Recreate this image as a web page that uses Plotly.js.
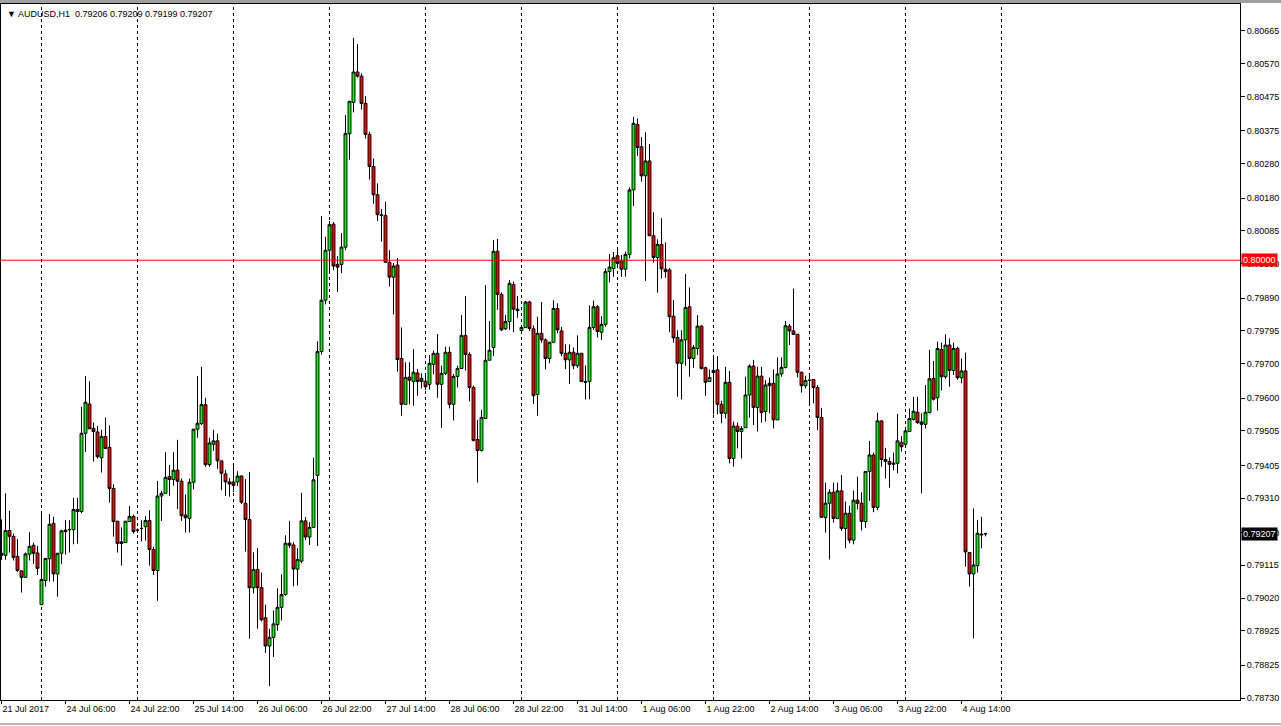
<!DOCTYPE html>
<html>
<head>
<meta charset="utf-8">
<script src="https://cdn.plot.ly/plotly-3.0.1.min.js"></script>
<style>html,body{margin:0;padding:0;background:#fff;}#chart{width:1281px;height:726px;}</style>
</head>
<body>
<div id="chart"></div>
<script>
// Trading sessions (date, first hour, last hour) of the H1 bars
const sessions = [
  ['2017-07-21',14,23],['2017-07-24',0,23],['2017-07-25',0,23],['2017-07-26',0,23],
  ['2017-07-27',0,23],['2017-07-28',0,23],['2017-07-31',0,23],['2017-08-01',0,23],
  ['2017-08-02',0,23],['2017-08-03',0,23],['2017-08-04',0,20]
];
const open = [
0.79150,0.79144,0.79216,0.79199,0.79141,0.79099,0.79080,0.79147,0.79173,0.79151,
0.79001,0.79071,0.79134,0.79237,0.79090,0.79150,0.79213,0.79218,0.79218,0.79277,
0.79271,0.79498,0.79583,0.79512,0.79502,0.79427,0.79489,0.79457,0.79338,0.79243,
0.79178,0.79181,0.79242,0.79257,0.79217,0.79222,0.79227,0.79245,0.79161,0.79100,
0.79316,0.79324,0.79373,0.79364,0.79391,0.79359,0.79261,0.79251,0.79356,0.79510,
0.79526,0.79581,0.79407,0.79466,0.79476,0.79418,0.79380,0.79357,0.79357,0.79357,
0.79374,0.79295,0.79248,0.79050,0.79103,0.79050,0.78963,0.78881,0.78906,0.78943,
0.78993,0.79030,0.79179,0.79174,0.79104,0.79127,0.79244,0.79197,0.79225,0.79376,
0.79735,0.79884,0.80029,0.80105,0.79988,0.79988,0.80038,0.80367,0.80458,0.80546,
0.80534,0.80455,0.80365,0.80272,0.80190,0.80132,0.80130,0.79994,0.79951,0.79986,
0.79715,0.79582,0.79661,0.79648,0.79673,0.79657,0.79649,0.79640,0.79698,0.79730,
0.79640,0.79672,0.79733,0.79582,0.79663,0.79686,0.79782,0.79727,0.79631,0.79480,
0.79448,0.79541,0.79710,0.79747,0.80026,0.79901,0.79801,0.79822,0.79930,0.79858,
0.79796,0.79805,0.79879,0.79801,0.79611,0.79788,0.79769,0.79715,0.79762,0.79860,
0.79795,0.79730,0.79711,0.79733,0.79694,0.79730,0.79648,0.79648,0.79805,0.79865,
0.79791,0.79814,0.79967,0.79976,0.80013,0.79998,0.79974,0.80017,0.80204,0.80394,
0.80329,0.80245,0.80288,0.80071,0.80008,0.80046,0.79974,0.79972,0.79838,0.79776,
0.79701,0.79769,0.79865,0.79715,0.79744,0.79809,0.79688,0.79648,0.79674,0.79682,
0.79582,0.79556,0.79646,0.79425,0.79519,0.79503,0.79514,0.79609,0.79693,0.79573,
0.79664,0.79561,0.79636,0.79643,0.79537,0.79670,0.79689,0.79809,0.79795,0.79785,
0.79675,0.79636,0.79651,0.79654,0.79631,0.79544,0.79254,0.79295,0.79327,0.79251,
0.79331,0.79222,0.79266,0.79188,0.79304,0.79295,0.79242,0.79387,0.79435,0.79283,
0.79534,0.79422,0.79416,0.79408,0.79411,0.79472,0.79466,0.79503,0.79538,0.79559,
0.79531,0.79524,0.79558,0.79657,0.79601,0.79741,0.79662,0.79754,0.79680,0.79744,
0.79659,0.79679,0.79152,0.79090,0.79114,0.79203,0.79206
];
const high = [
0.79248,0.79324,0.79273,0.79207,0.79191,0.79099,0.79152,0.79211,0.79181,0.79171,
0.79264,0.79135,0.79264,0.79256,0.79150,0.79218,0.79246,0.79246,0.79311,0.79311,
0.79575,0.79664,0.79649,0.79529,0.79519,0.79508,0.79544,0.79521,0.79350,0.79243,
0.79225,0.79243,0.79287,0.79262,0.79222,0.79246,0.79258,0.79275,0.79169,0.79360,
0.79331,0.79443,0.79406,0.79443,0.79479,0.79367,0.79321,0.79367,0.79510,0.79664,
0.79691,0.79601,0.79485,0.79508,0.79497,0.79418,0.79392,0.79368,0.79403,0.79388,
0.79376,0.79365,0.79386,0.79153,0.79165,0.79094,0.79001,0.78931,0.78984,0.79048,
0.79089,0.79202,0.79244,0.79182,0.79165,0.79325,0.79255,0.79240,0.79427,0.79765,
0.80128,0.80068,0.80114,0.80111,0.80012,0.80079,0.80421,0.80461,0.80645,0.80627,
0.80542,0.80476,0.80373,0.80295,0.80223,0.80149,0.80170,0.80029,0.79992,0.80007,
0.79805,0.79704,0.79704,0.79742,0.79685,0.79672,0.79664,0.79725,0.79738,0.79786,
0.79694,0.79749,0.79749,0.79670,0.79694,0.79841,0.79896,0.79733,0.79636,0.79537,
0.79566,0.79928,0.79824,0.80059,0.80062,0.79907,0.79841,0.79943,0.79938,0.79896,
0.79805,0.79882,0.79882,0.79811,0.79836,0.79879,0.79773,0.79762,0.79884,0.79875,
0.79807,0.79756,0.79756,0.79747,0.79782,0.79730,0.79695,0.79869,0.79883,0.79870,
0.79838,0.79976,0.80018,0.80024,0.80030,0.80015,0.80025,0.80211,0.80416,0.80411,
0.80357,0.80371,0.80337,0.80139,0.80061,0.80122,0.80052,0.79977,0.79885,0.79797,
0.79797,0.79960,0.79921,0.79754,0.79841,0.79812,0.79691,0.79683,0.79717,0.79722,
0.79592,0.79691,0.79679,0.79532,0.79529,0.79519,0.79662,0.79698,0.79711,0.79691,
0.79691,0.79652,0.79659,0.79683,0.79718,0.79718,0.79824,0.79815,0.79918,0.79785,
0.79677,0.79665,0.79667,0.79654,0.79638,0.79572,0.79355,0.79336,0.79355,0.79355,
0.79377,0.79300,0.79288,0.79332,0.79372,0.79327,0.79387,0.79476,0.79442,0.79558,
0.79536,0.79456,0.79428,0.79442,0.79554,0.79490,0.79517,0.79570,0.79604,0.79604,
0.79556,0.79638,0.79740,0.79708,0.79764,0.79761,0.79785,0.79773,0.79761,0.79749,
0.79715,0.79732,0.79152,0.79280,0.79246,0.79256,0.79209
];
const low = [
0.79131,0.79131,0.79152,0.79129,0.79096,0.79036,0.79080,0.79129,0.79119,0.79087,
0.79001,0.79053,0.79068,0.79068,0.79024,0.79118,0.79146,0.79152,0.79176,0.79178,
0.79266,0.79444,0.79511,0.79416,0.79424,0.79384,0.79454,0.79297,0.79198,0.79152,
0.79114,0.79181,0.79242,0.79207,0.79209,0.79184,0.79187,0.79114,0.79087,0.79012,
0.79244,0.79322,0.79317,0.79346,0.79278,0.79244,0.79210,0.79210,0.79335,0.79485,
0.79522,0.79401,0.79401,0.79447,0.79395,0.79333,0.79316,0.79314,0.79328,0.79345,
0.79293,0.79155,0.78902,0.79033,0.78931,0.78952,0.78861,0.78765,0.78849,0.78925,
0.78955,0.79027,0.79165,0.79054,0.79056,0.79121,0.79188,0.79174,0.79223,0.79171,
0.79726,0.79872,0.79969,0.79971,0.79908,0.79963,0.80029,0.80292,0.80429,0.80530,
0.80437,0.80353,0.80234,0.80164,0.80114,0.80054,0.79992,0.79924,0.79843,0.79677,
0.79549,0.79582,0.79582,0.79578,0.79607,0.79628,0.79623,0.79625,0.79669,0.79601,
0.79514,0.79667,0.79570,0.79535,0.79631,0.79686,0.79680,0.79590,0.79474,0.79355,
0.79445,0.79541,0.79710,0.79722,0.79856,0.79795,0.79798,0.79798,0.79791,0.79833,
0.79793,0.79804,0.79795,0.79583,0.79549,0.79761,0.79683,0.79701,0.79762,0.79788,
0.79722,0.79684,0.79641,0.79684,0.79688,0.79648,0.79596,0.79597,0.79798,0.79776,
0.79769,0.79807,0.79936,0.79952,0.79981,0.79952,0.79952,0.80005,0.80157,0.80303,
0.80228,0.79940,0.80071,0.79993,0.79906,0.79947,0.79949,0.79791,0.79761,0.79604,
0.79596,0.79694,0.79662,0.79688,0.79725,0.79683,0.79607,0.79648,0.79553,0.79553,
0.79527,0.79541,0.79411,0.79401,0.79454,0.79425,0.79514,0.79543,0.79522,0.79503,
0.79529,0.79532,0.79556,0.79512,0.79537,0.79662,0.79686,0.79754,0.79783,0.79660,
0.79616,0.79628,0.79585,0.79585,0.79507,0.79254,0.79210,0.79132,0.79239,0.79251,
0.79215,0.79164,0.79179,0.79176,0.79277,0.79216,0.79224,0.79302,0.79269,0.79275,
0.79401,0.79367,0.79340,0.79390,0.79382,0.79445,0.79466,0.79503,0.79535,0.79525,
0.79324,0.79512,0.79556,0.79593,0.79564,0.79622,0.79656,0.79633,0.79667,0.79653,
0.79643,0.79111,0.79053,0.78903,0.79094,0.79164,0.79199
];
const close = [
0.79144,0.79216,0.79199,0.79138,0.79100,0.79080,0.79148,0.79170,0.79150,0.79106,
0.79074,0.79135,0.79234,0.79090,0.79150,0.79215,0.79217,0.79219,0.79277,0.79271,
0.79498,0.79588,0.79511,0.79503,0.79430,0.79489,0.79454,0.79338,0.79242,0.79178,
0.79183,0.79243,0.79257,0.79213,0.79217,0.79222,0.79245,0.79161,0.79100,0.79316,
0.79324,0.79370,0.79364,0.79391,0.79359,0.79259,0.79253,0.79356,0.79510,0.79527,
0.79581,0.79407,0.79470,0.79476,0.79418,0.79382,0.79357,0.79351,0.79347,0.79374,
0.79298,0.79248,0.79050,0.79103,0.79050,0.78957,0.78881,0.78906,0.78945,0.78993,
0.79030,0.79179,0.79173,0.79104,0.79132,0.79244,0.79197,0.79225,0.79363,0.79735,
0.79884,0.80029,0.80103,0.79983,0.79980,0.80038,0.80368,0.80461,0.80546,0.80534,
0.80455,0.80365,0.80272,0.80190,0.80132,0.80130,0.79994,0.79951,0.79983,0.79712,
0.79582,0.79660,0.79652,0.79675,0.79648,0.79648,0.79633,0.79701,0.79730,0.79640,
0.79672,0.79733,0.79582,0.79663,0.79686,0.79782,0.79727,0.79631,0.79477,0.79448,
0.79544,0.79710,0.79739,0.80026,0.79901,0.79798,0.79822,0.79933,0.79858,0.79854,
0.79805,0.79879,0.79802,0.79607,0.79788,0.79769,0.79715,0.79762,0.79860,0.79798,
0.79730,0.79711,0.79733,0.79694,0.79730,0.79648,0.79646,0.79805,0.79865,0.79793,
0.79814,0.79967,0.79980,0.80007,0.79991,0.79974,0.80017,0.80204,0.80397,0.80327,
0.80245,0.80288,0.80071,0.80008,0.80046,0.79975,0.79967,0.79836,0.79775,0.79701,
0.79769,0.79863,0.79715,0.79747,0.79809,0.79686,0.79646,0.79660,0.79680,0.79582,
0.79556,0.79646,0.79425,0.79519,0.79503,0.79512,0.79609,0.79693,0.79573,0.79664,
0.79558,0.79638,0.79643,0.79537,0.79670,0.79689,0.79810,0.79795,0.79785,0.79675,
0.79636,0.79651,0.79652,0.79631,0.79544,0.79254,0.79295,0.79327,0.79251,0.79331,
0.79222,0.79266,0.79188,0.79304,0.79295,0.79242,0.79387,0.79435,0.79283,0.79534,
0.79422,0.79416,0.79408,0.79411,0.79476,0.79459,0.79505,0.79541,0.79562,0.79529,
0.79524,0.79559,0.79656,0.79597,0.79744,0.79662,0.79754,0.79680,0.79744,0.79659,
0.79679,0.79154,0.79090,0.79116,0.79208,0.79205,0.79207
];
// Axis labels
const xTickIdx = [0,16,32,48,64,80,96,112,128,144,160,176,192,208,224,240];
const xTickText = ['21 Jul 2017','24 Jul 06:00','24 Jul 22:00','25 Jul 14:00','26 Jul 06:00',
  '26 Jul 22:00','27 Jul 14:00','28 Jul 06:00','28 Jul 22:00','31 Jul 14:00','1 Aug 06:00',
  '1 Aug 22:00','2 Aug 14:00','3 Aug 06:00','3 Aug 22:00','4 Aug 14:00'];
const yTicks = [0.80665,0.80570,0.80475,0.80375,0.80280,0.80180,0.80085,0.79990,0.79890,0.79795,
  0.79700,0.79600,0.79505,0.79405,0.79310,0.79210,0.79115,0.79020,0.78925,0.78825,0.78730];
const daySeparators = [10,34,58,82,106,130,154,178,202,226,250];
const levelLine = 0.80000;
const lastPrice = 0.79207;
const headerText = '\u25BC AUDUSD,H1\u00a0\u00a00.79206 0.79209 0.79199 0.79207';

// build the bar time categories
const cats = [];
sessions.forEach(([d,h0,h1]) => { for (let h=h0; h<=h1; h++) cats.push(d+' '+String(h).padStart(2,'0')+':00'); });

const trace = {
  type:'candlestick', x:cats, open:open, high:high, low:low, close:close,
  increasing:{line:{color:'#000000',width:1}, fillcolor:'#00FF00'},
  decreasing:{line:{color:'#000000',width:1}, fillcolor:'#FF0000'},
  whiskerwidth:0, hoverinfo:'none', showlegend:false
};

const shapes = daySeparators.map(i => ({
  type:'line', xref:'x', yref:'paper', x0:i, x1:i, y0:0, y1:1, layer:'below',
  line:{color:'#000000', width:1, dash:'3px,3px'}
}));
shapes.push({type:'line', xref:'paper', yref:'y', x0:0, x1:1, y0:levelLine, y1:levelLine,
  layer:'above', line:{color:'#FF0000', width:1}});
shapes.push({type:'rect', xref:'paper', yref:'paper', x0:-0.01, x1:1.04, y0:1.0015, y1:1.006,
  line:{width:0}, fillcolor:'#a0a0a0'});
shapes.push({type:'line', xref:'paper', yref:'paper', x0:-0.01, x1:1.04, y0:-0.0345, y1:-0.0345,
  line:{color:'#707070', width:1}});

const layout = {
  width:1281, height:726,
  margin:{l:1, r:41, t:4, b:26, pad:0},
  paper_bgcolor:'#ffffff', plot_bgcolor:'#ffffff',
  showlegend:false,
  boxgap:0, boxgroupgap:0.28,
  font:{family:'"Liberation Sans", Arial, sans-serif', size:9, color:'#000000'},
  xaxis:{
    type:'category', range:[-0.125, 309.625], fixedrange:true,
    showgrid:false, zeroline:false, showline:true, mirror:true, linecolor:'#000000', linewidth:1,
    ticks:'outside', ticklen:3, tickcolor:'#000000',
    tickvals:xTickIdx.map(i => cats[i]), ticktext:xTickText,
    ticklabelposition:'outside right', tickfont:{size:9, color:'#000000'},
    rangeslider:{visible:false}
  },
  yaxis:{
    side:'right', range:[0.787243, 0.807433], fixedrange:true,
    showgrid:false, zeroline:false, showline:true, mirror:true, linecolor:'#000000', linewidth:1,
    ticks:'outside', ticklen:4, tickcolor:'#000000',
    tickvals:yTicks, ticktext:yTicks.map(v => v.toFixed(5)),
    tickfont:{size:9, color:'#000000'}
  },
  shapes:shapes,
  annotations:[
    {xref:'paper', yref:'paper', x:0, y:1, xanchor:'left', yanchor:'top', xshift:4, yshift:-3,
     text:headerText, showarrow:false, font:{size:9, color:'#000000'}},
    {xref:'paper', yref:'y', x:1, y:levelLine, xanchor:'left', yanchor:'middle', xshift:1,
     text:levelLine.toFixed(5), showarrow:false, bgcolor:'#FF0000', borderpad:1,
     font:{size:9, color:'#ffffff'}},
    {xref:'paper', yref:'y', x:1, y:lastPrice, xanchor:'left', yanchor:'middle', xshift:1,
     text:lastPrice.toFixed(5), showarrow:false, bgcolor:'#000000', borderpad:1,
     font:{size:9, color:'#ffffff'}}
  ]
};

Plotly.newPlot('chart', [trace], layout, {staticPlot:true, displayModeBar:false});
</script>
</body>
</html>
